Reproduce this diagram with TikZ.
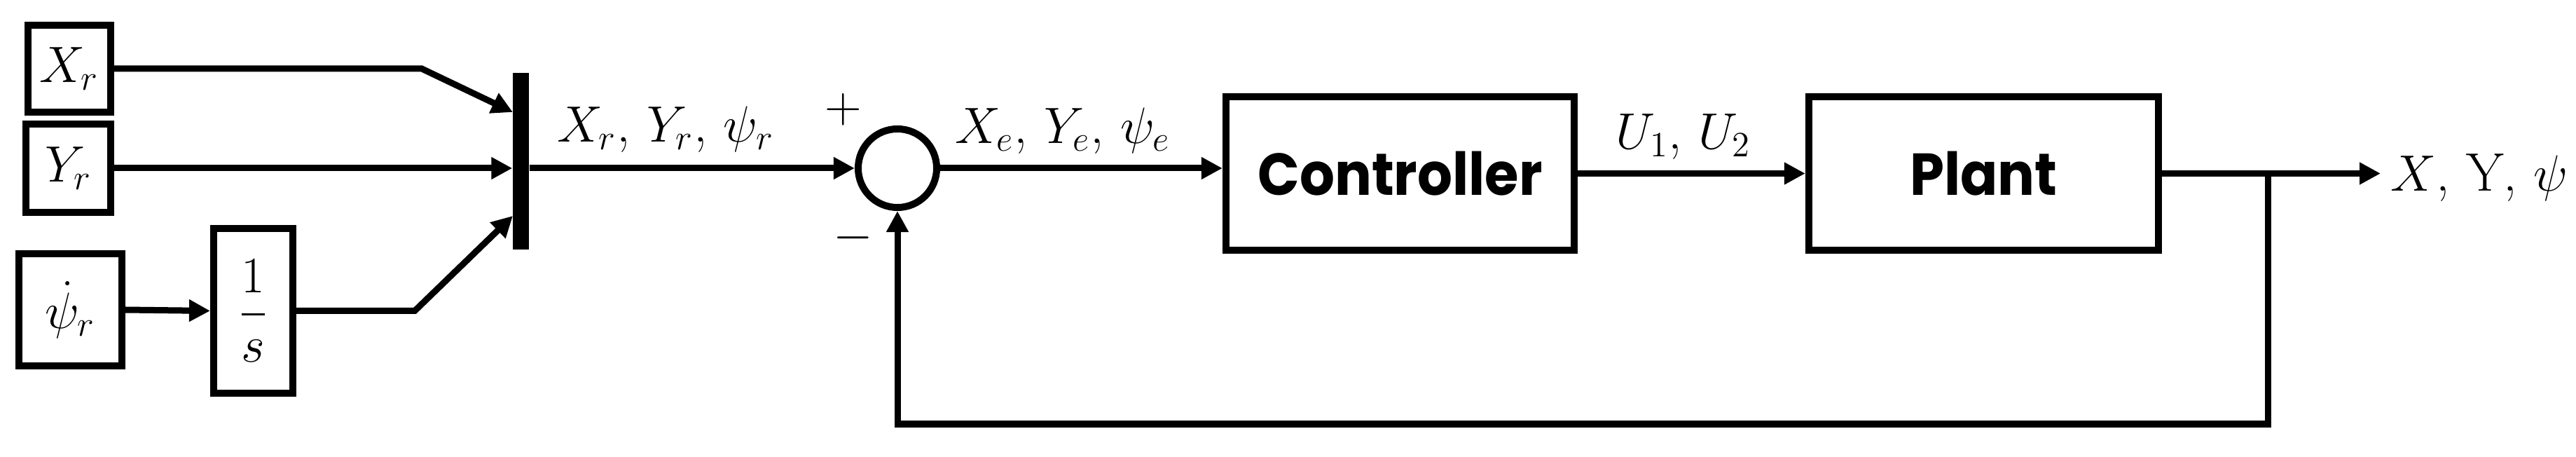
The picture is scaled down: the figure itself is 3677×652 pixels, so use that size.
\documentclass[tikz,border=0pt]{standalone}
\usepackage{fontspec}
\usepackage{amsmath}
\newfontfamily\popb{Poppins}
\usetikzlibrary{arrows.meta,calc}
\begin{document}
\begin{tikzpicture}[x=0.01cm,y=-0.01cm,
  blk/.style={draw,line width=0.1cm,rectangle,inner sep=0pt,font=\fontsize{22}{26}\selectfont},
  con/.style={line width=0.09cm,-{Triangle[length=0.3cm,width=0.3cm]}},
  wire/.style={line width=0.09cm},
  lab/.style={font=\fontsize{22}{26}\selectfont,inner sep=0pt},
  bigtxt/.style={font=\popb\bfseries\fontsize{24}{28}\selectfont}]
\useasboundingbox (0,0) rectangle (3677,652);
% source blocks
\node[blk,minimum width=1.18cm,minimum height=1.24cm] (xr) at (99,98) {$X_r$};
\node[blk,minimum width=1.21cm,minimum height=1.25cm] (yr) at (97.5,240) {$Y_r$};
\node[blk,minimum width=1.47cm,minimum height=1.60cm] (pd) at (100.5,442) {$\dot{\psi}_r$};
\node[blk,minimum width=1.13cm,minimum height=2.35cm] (integ) at (361.5,443.5) {$\dfrac{1}{s}$};
% mux bar
\node[fill=black,rectangle,inner sep=0pt,minimum width=0.23cm,minimum height=2.52cm] (mux) at (743.5,230) {};
\coordinate (m1) at (732,160);
\coordinate (m3) at (732,308);
\coordinate (k1) at (602,98);
\coordinate (k3) at (592,443.5);
% summing junction
\node[draw,circle,line width=0.1cm,minimum size=1.12cm,inner sep=0pt] (sum) at (1281,240) {};
% blocks
\node[blk,minimum width=4.97cm,minimum height=2.19cm] (ctrl) at (1998.5,247.5) {};
\node[bigtxt] at (ctrl.center) {\scalebox{0.93}[1]{Controller}};
\node[blk,minimum width=4.99cm,minimum height=2.19cm] (plant) at (2831.5,247.5) {};
\node[bigtxt] at (plant.center) {\scalebox{0.93}[1]{Plant}};
% output / feedback
\coordinate (br) at (3237,247.5);
\coordinate (out) at (3398,247.5);
\coordinate (fb) at (3237,605);
% connectors
\draw[con] (xr.east) -- (k1) -- (m1);
\draw[con] (yr.east) -- (yr.east -| mux.west);
\draw[con] (pd.east) -- (integ.west);
\draw[con] (integ.east) -- (k3) -- (m3);
\draw[con] (mux.east |- sum.west) -- (sum.west);
\draw[con] (sum.east) -- (sum.east -| ctrl.west);
\draw[con] (ctrl.east) -- (plant.west);
\draw[con] (plant.east) -- (out);
\draw[con] (br) -- (fb) -| (sum.south);
% labels
\node[lab,anchor=base west] (l1) at (795,203) {$X_r$, $Y_r$, $\psi_r$};
\node[lab,anchor=base west] (l2) at (1363,205) {$X_e$, $Y_e$, $\psi_e$};
\node[lab,anchor=base west] (l3) at (2306,213) {$U_1$, $U_2$};
\node[lab,anchor=base west] (l4) at (3412,273) {$X$, Y, $\psi$};
\node[lab] (plus) at (1204,156) {$+$};
\node[lab] (minus) at (1218,339) {$-$};
\end{tikzpicture}
\end{document}
